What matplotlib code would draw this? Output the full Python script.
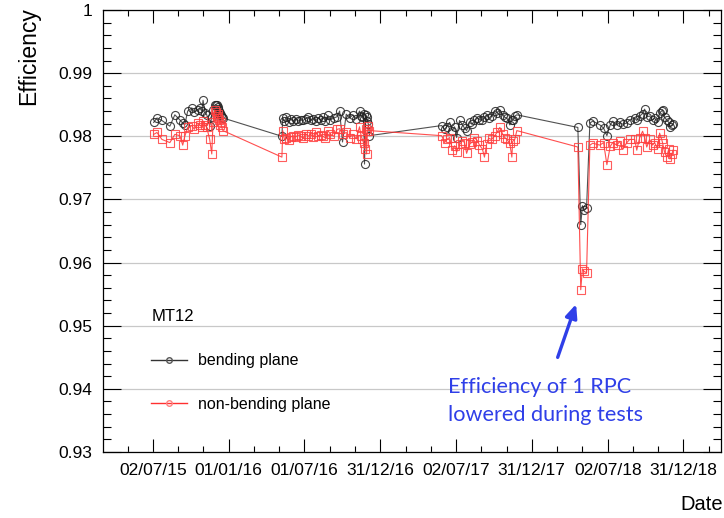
import matplotlib
matplotlib.use('Agg')
import matplotlib.pyplot as plt
import matplotlib.dates as mdates
from matplotlib.lines import Line2D
from matplotlib.ticker import MultipleLocator, FuncFormatter, FixedLocator
import numpy as np
import pandas as pd

plt.rcParams['font.family'] = ['Liberation Sans', 'DejaVu Sans']

# run dates and efficiencies
dates = [
    '2015-07-04', '2015-07-12', '2015-07-24', '2015-08-12', '2015-08-24', '2015-09-05',
    '2015-09-12', '2015-09-17', '2015-09-24', '2015-10-04', '2015-10-10', '2015-10-18',
    '2015-10-23', '2015-10-28', '2015-10-31', '2015-11-05', '2015-11-09', '2015-11-16',
    '2015-11-21', '2015-11-24', '2015-11-28', '2015-12-01', '2015-12-03', '2015-12-05',
    '2015-12-07', '2015-12-09', '2015-12-11', '2015-12-13', '2015-12-15', '2015-12-18',
    '2016-05-08', '2016-05-10', '2016-05-14', '2016-05-19', '2016-05-24', '2016-05-29',
    '2016-06-04', '2016-06-10', '2016-06-16', '2016-06-22', '2016-06-28', '2016-07-04',
    '2016-07-10', '2016-07-16', '2016-07-22', '2016-07-28', '2016-08-03', '2016-08-09',
    '2016-08-15', '2016-08-21', '2016-08-27', '2016-09-02', '2016-09-10', '2016-09-18',
    '2016-09-24', '2016-10-01', '2016-10-10', '2016-10-18', '2016-10-26', '2016-11-03',
    '2016-11-11', '2016-11-15', '2016-11-18', '2016-11-21', '2016-11-23', '2016-11-26',
    '2016-11-28', '2016-11-30', '2016-12-02', '2016-12-05',
    '2017-05-28', '2017-06-04', '2017-06-09', '2017-06-16', '2017-06-23', '2017-06-28',
    '2017-07-03', '2017-07-10', '2017-07-17', '2017-07-22', '2017-07-27', '2017-08-03',
    '2017-08-09', '2017-08-15', '2017-08-22', '2017-08-27', '2017-09-03', '2017-09-08',
    '2017-09-13', '2017-09-18', '2017-09-25', '2017-10-03', '2017-10-08', '2017-10-15',
    '2017-10-22', '2017-10-27', '2017-11-01', '2017-11-08', '2017-11-13', '2017-11-15',
    '2017-11-20', '2017-11-25',
    '2018-04-21', '2018-04-28', '2018-05-02', '2018-05-06', '2018-05-12', '2018-05-20',
    '2018-05-27', '2018-06-13', '2018-06-22', '2018-06-30', '2018-07-08', '2018-07-14',
    '2018-07-24', '2018-07-31', '2018-08-07', '2018-08-17', '2018-08-24', '2018-09-05',
    '2018-09-10', '2018-09-17', '2018-09-24', '2018-09-29', '2018-10-04', '2018-10-11',
    '2018-10-18', '2018-10-23', '2018-10-30', '2018-11-04', '2018-11-09', '2018-11-11',
    '2018-11-16', '2018-11-21', '2018-11-26', '2018-11-29', '2018-12-04', '2018-12-06',
]

bending = [
    0.9822, 0.9829, 0.9825, 0.9816, 0.9834, 0.9826,
    0.9821, 0.9818, 0.9840, 0.9845, 0.9838, 0.9842,
    0.9845, 0.9840, 0.9857, 0.9837, 0.9834, 0.9817,
    0.9830, 0.9842, 0.9849, 0.9850, 0.9849, 0.9846,
    0.9844, 0.9840, 0.9837, 0.9834, 0.9831, 0.9829,
    0.9800, 0.9829, 0.9824, 0.9831, 0.9822, 0.9827,
    0.9824, 0.9828, 0.9824, 0.9826, 0.9825, 0.9828,
    0.9830, 0.9826, 0.9828, 0.9824, 0.9829, 0.9826,
    0.9830, 0.9824, 0.9833, 0.9826, 0.9829, 0.9831,
    0.9840, 0.9791, 0.9835, 0.9829, 0.9834, 0.9828,
    0.9840, 0.9832, 0.9831, 0.9836, 0.9756, 0.9833,
    0.9830, 0.9824, 0.9820, 0.9801,
    0.9817, 0.9811, 0.9815, 0.9822, 0.9809, 0.9815,
    0.9798, 0.9825, 0.9818, 0.9813, 0.9809, 0.9822,
    0.9819, 0.9825, 0.9829, 0.9826, 0.9826, 0.9830,
    0.9834, 0.9829, 0.9832, 0.9840, 0.9837, 0.9842,
    0.9834, 0.9830, 0.9829, 0.9818, 0.9825, 0.9825,
    0.9832, 0.9834,
    0.9814, 0.9660, 0.9690, 0.9684, 0.9686, 0.9821,
    0.9824, 0.9818, 0.9813, 0.9801, 0.9818, 0.9824,
    0.9818, 0.9822, 0.9819, 0.9821, 0.9826, 0.9829,
    0.9825, 0.9832, 0.9836, 0.9843, 0.9831, 0.9832,
    0.9826, 0.9829, 0.9822, 0.9837, 0.9840, 0.9842,
    0.9830, 0.9826, 0.9822, 0.9815, 0.9818, 0.9820,
]

non_bending = [
    0.9803, 0.9806, 0.9795, 0.9790, 0.9803, 0.9801,
    0.9786, 0.9800, 0.9814, 0.9817, 0.9811, 0.9821,
    0.9818, 0.9815, 0.9824, 0.9818, 0.9814, 0.9795,
    0.9772, 0.9822, 0.9842, 0.9838, 0.9832, 0.9829,
    0.9836, 0.9826, 0.9818, 0.9822, 0.9814, 0.9809,
    0.9767, 0.9809, 0.9795, 0.9797, 0.9794, 0.9799,
    0.9801, 0.9799, 0.9802, 0.9800, 0.9797, 0.9804,
    0.9800, 0.9803, 0.9799, 0.9806, 0.9801, 0.9802,
    0.9800, 0.9797, 0.9809, 0.9803, 0.9800, 0.9811,
    0.9812, 0.9803, 0.9806, 0.9798, 0.9803, 0.9796,
    0.9815, 0.9800, 0.9795, 0.9789, 0.9780, 0.9812,
    0.9772, 0.9808, 0.9816, 0.9809,
    0.9801, 0.9790, 0.9795, 0.9798, 0.9779, 0.9785,
    0.9775, 0.9787, 0.9793, 0.9790, 0.9773, 0.9787,
    0.9791, 0.9798, 0.9793, 0.9786, 0.9780, 0.9767,
    0.9787, 0.9797, 0.9795, 0.9801, 0.9806, 0.9814,
    0.9803, 0.9798, 0.9795, 0.9789, 0.9767, 0.9792,
    0.9795, 0.9809,
    0.9783, 0.9557, 0.9590, 0.9586, 0.9584, 0.9786,
    0.9789, 0.9786, 0.9790, 0.9755, 0.9784, 0.9790,
    0.9786, 0.9792, 0.9779, 0.9790, 0.9795, 0.9795,
    0.9778, 0.9798, 0.9808, 0.9798, 0.9783, 0.9795,
    0.9786, 0.9790, 0.9780, 0.9805, 0.9795, 0.9790,
    0.9775, 0.9767, 0.9780, 0.9764, 0.9772, 0.9778,
]

tick_dates = ['2015-07-02', '2016-01-01', '2016-07-01', '2016-12-31',
              '2017-07-02', '2017-12-31', '2018-07-02', '2018-12-31']
tick_labels = ['02/07/15', '01/01/16', '01/07/16', '31/12/16',
               '02/07/17', '31/12/17', '02/07/18', '31/12/18']

x = pd.to_datetime(dates)

fig = plt.figure(figsize=(7.24, 5.18), dpi=100)
ax = fig.add_axes([0.1423, 0.1274, 0.8536, 0.8533])

ax.plot(x, bending, color='#333333', lw=0.8, marker='o', ms=5.8, mfc='none',
        mec='#222222', mew=0.8, alpha=0.85, zorder=3)
ax.plot(x, non_bending, color='#ff3030', lw=0.8, marker='s', ms=5.2, mfc='none',
        mec='#ff4040', mew=0.8, alpha=0.85, zorder=4)

# axes
ax.set_ylim(0.93, 1.0)
ax.set_xlim(pd.Timestamp('2015-03-04'), pd.Timestamp('2019-04-01'))
ax.yaxis.set_major_locator(MultipleLocator(0.01))
ax.yaxis.set_minor_locator(MultipleLocator(0.002))
ax.yaxis.set_major_formatter(FuncFormatter(lambda v, p: '1' if abs(v - 1) < 1e-9 else f'{v:.2f}'))

major = mdates.date2num(pd.to_datetime(tick_dates))
step = np.diff(major).mean()
ext = np.concatenate([[major[0] - step], major, [major[-1] + step]])
minor = []
for a, b in zip(ext[:-1], ext[1:]):
    minor += [a + (b - a) / 3, a + 2 * (b - a) / 3]
ax.xaxis.set_major_locator(FixedLocator(major))
ax.xaxis.set_minor_locator(FixedLocator(minor))
ax.set_xticklabels(tick_labels)

ax.tick_params(axis='both', which='both', direction='in', top=True, right=True, width=0.8)
ax.tick_params(axis='y', which='major', length=13, labelsize=12.5, pad=8)
ax.tick_params(axis='y', which='minor', length=6)
ax.tick_params(axis='x', which='major', length=9.5, labelsize=12.5, pad=8)
ax.tick_params(axis='x', which='minor', length=4.5)
for s in ax.spines.values():
    s.set_linewidth(0.9)

ax.grid(axis='y', which='major', color='#c8c8c8', lw=0.9)
ax.set_axisbelow(True)

fig.text(0.039, 0.986, 'Efficiency', rotation=90, ha='center', va='top', fontsize=16.5)
fig.text(0.999, 0.008, 'Date', ha='right', va='bottom', fontsize=14.5)

handles = [
    Line2D([], [], color='#333333', lw=1, marker='o', ms=4, mfc='none', mec='#555555'),
    Line2D([], [], color='#ff3030', lw=1, marker='o', ms=4, mfc='none', mec='#ff8080'),
]
ax.legend(handles, ['bending plane', 'non-bending plane'], title='MT12',
          loc='upper left', bbox_to_anchor=(0.055, 0.355), frameon=False,
          fontsize=11.5, title_fontsize=12, alignment='left',
          handlelength=2.2, labelspacing=1.8, handletextpad=0.7)

blue = '#2f3fe8'
fig.text(0.619, 0.273, 'Efficiency of 1 RPC\nlowered during tests', color=blue,
         fontsize=15.6, family=['Lato', 'DejaVu Sans'], ha='left', va='top', linespacing=1.5)
ax.annotate('', xy=(0.797, 0.418), xycoords='figure fraction',
            xytext=(0.769, 0.305), textcoords='figure fraction',
            arrowprops=dict(arrowstyle='-|>,head_length=0.8,head_width=0.35', color=blue, lw=2.4))

fig.savefig('out.png', dpi=100)
